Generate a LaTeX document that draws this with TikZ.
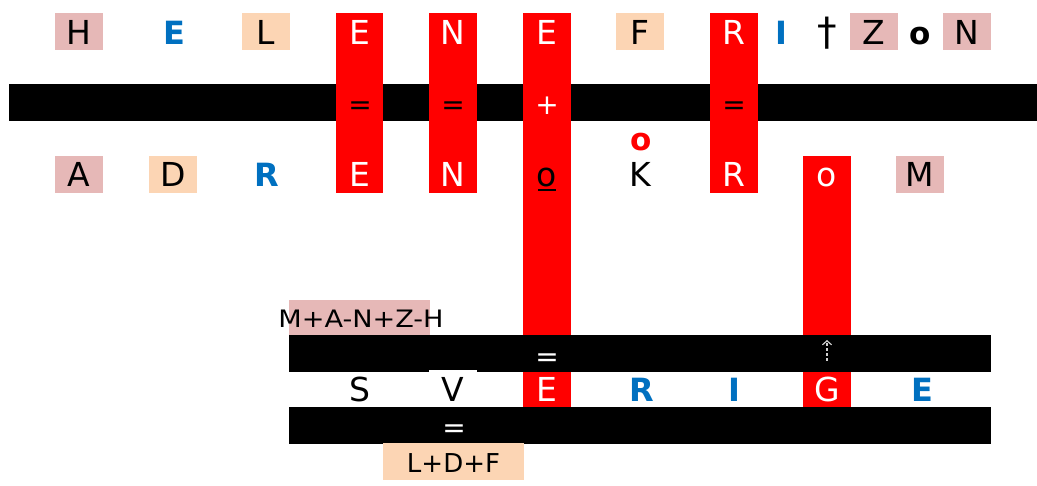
\documentclass[tikz,border=0pt]{standalone}
\usepackage{fontspec}
\usetikzlibrary{arrows.meta}
\newfontfamily\dvs{DejaVu Sans}
\newcommand\regf{\dvs\fontsize{33}{40}\selectfont}
\newcommand\bluef{\dvs\bfseries\fontsize{32}{40}\selectfont}
\newcommand\boldf{\dvs\bfseries\fontsize{31}{38}\selectfont}
\newcommand\dagf{\dvs\fontsize{39}{44}\selectfont}
\newcommand\symf{\dvs\fontsize{28}{32}\selectfont}
\newcommand\labf{\dvs\fontsize{26}{32}\selectfont}
\newcommand\manf{\dvs\fontsize{24}{28}\selectfont}
\definecolor{cpink}{HTML}{E6B8B7}
\definecolor{cpeach}{HTML}{FCD5B4}
\definecolor{cblue}{HTML}{0070C0}
\definecolor{cred}{HTML}{FF0000}
\definecolor{carrow}{HTML}{D0D0D0}
\tikzset{
  lt/.style={inner sep=0pt, minimum width=48pt, minimum height=37pt,
             text height=25pt, text depth=0pt, font=\regf},
  pinkbox/.style={lt, fill=cpink},
  peachbox/.style={lt, fill=cpeach},
  onred/.style={lt, text=white},
  redbox/.style={lt, fill=cred, text=white},
  bluelt/.style={lt, text=cblue, font=\bluef},
  boldlt/.style={lt, font=\boldf},
  sym/.style={inner sep=0pt, anchor=base, font=\symf},
  bar/.style={fill=black},
  redcol/.style={fill=cred},
}
\begin{document}
\begin{tikzpicture}[x=1pt,y=-1pt]
\useasboundingbox (0,0) rectangle (1037,486);
% top bar
\fill[bar] (9,84) rectangle (1037,121);
% red columns
\fill[redcol] (336,13) rectangle (383,193);
\fill[redcol] (429,13) rectangle (477,193);
\fill[redcol] (523,13) rectangle (571,335);
\fill[redcol] (710,13) rectangle (758,193);
\fill[redcol] (803,156) rectangle (851,335);
% row 1
\node[pinkbox] (h1) at (79,32) {H};
\node[bluelt] (e1) at (174,32) {E};
\node[peachbox] (l1) at (266,32) {L};
\node[onred] (e2) at (359.5,32) {E};
\node[onred] (n1) at (453,32) {N};
\node[onred] (e3) at (547,32) {E};
\node[peachbox] (f1) at (640,32) {F};
\node[onred] (r1) at (734,32) {R};
\node[bluelt] (i1) at (781,32) {I};
\node[inner sep=0pt, anchor=base, font=\dagf] (dag) at (827,46) {†};
\node[pinkbox] (z1) at (874,32) {Z};
\node[boldlt] (o1) at (920,32) {o};
\node[pinkbox] (n2) at (967,32) {N};
% red o between rows
\node[inner sep=0pt, anchor=base, font=\boldf, text=cred] (redo) at (641,151) {o};
% row 2
\node[pinkbox] (a2) at (79,174.5) {A};
\node[peachbox] (d2) at (173,174.5) {D};
\node[bluelt] (r2) at (267,174.5) {R};
\node[onred] (e4) at (359.5,174.5) {E};
\node[onred] (n3) at (453,174.5) {N};
\node[lt] (uo) at (547,174.5) {o};
\draw[line width=2pt] ([xshift=-9pt,yshift=-3pt]uo.base) -- ([xshift=9pt,yshift=-3pt]uo.base);
\node[lt] (k2) at (640,174.5) {K};
\node[onred] (r3) at (734,174.5) {R};
\node[onred] (o2) at (827,174.5) {o};
\node[pinkbox] (m2) at (920,174.5) {M};
% M+A-N+Z-H label
\node[fill=cpink, inner sep=0pt, minimum width=141pt, minimum height=35pt] (manbox) at (359.5,317.5) {};
\node[inner sep=0pt, text height=21pt, text depth=0pt, font=\manf] (man) at (361,317.5) {\scalebox{1.13}[1]{M+A-N+Z-H}};
% row 3 red boxes
\node[redbox] (e5) at (547,389) {E};
\node[redbox] (g3) at (827,389) {G};
% lower bars
\fill[bar] (289,335) rectangle (991,372);
\fill[bar] (289,407) rectangle (991,444);
% row 3
\node[lt] (s3) at (360,389) {S};
\node[lt, fill=white, minimum height=36.5pt] (v3) at (453,388.75) {V};
\node[bluelt] (r4) at (642,389) {R};
\node[bluelt] (i3) at (734,389) {I};
\node[bluelt] (e6) at (922,389) {E};
% L+D+F label
\node[fill=cpeach, inner sep=0pt, minimum width=141pt, minimum height=37pt,
      text height=22pt, text depth=0pt, font=\labf] (ldf) at (453.5,461.5) {L+D+F};
% symbols in bars
\node[sym] (q1) at (360,115) {=};
\node[sym] (q2) at (453,115) {=};
\node[sym, text=white] (p1) at (547,115) {+};
\node[sym] (q3) at (734,115) {=};
\node[sym, text=white] (q4) at (547,367) {=};
\node[sym, text=white] (q5) at (454,438) {=};
% dashed arrow
\coordinate (arS) at (827,361);
\coordinate (arE) at (827,340);
\draw[carrow, line width=1.2pt, dash pattern=on 3pt off 2pt,
      -{Straight Barb[length=4pt,width=9pt]}] (arS) -- (arE);
\end{tikzpicture}
\end{document}
